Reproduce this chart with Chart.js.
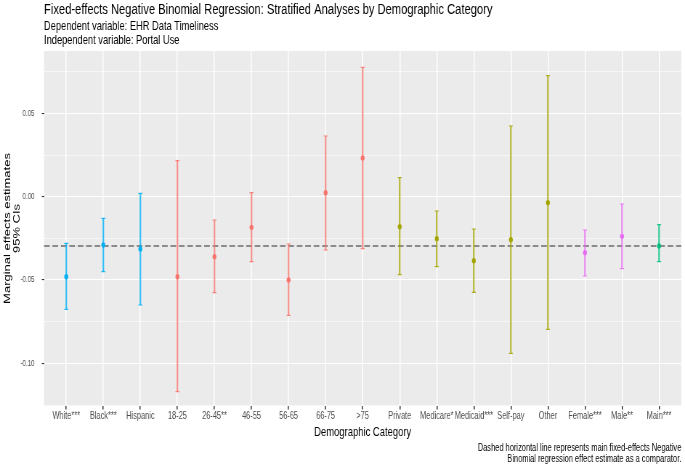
<!DOCTYPE html>
<html>
<head>
<meta charset="utf-8">
<title>Fixed-effects Negative Binomial Regression</title>
<script src="https://cdn.jsdelivr.net/npm/chart.js@4.4.1/dist/chart.umd.min.js"></script>
<style>
    html, body { margin: 0; padding: 0; background: #ffffff; }
    #grafico { display: block; }
</style>
</head>
<body>
<!-- O original foi comprimido na horizontal: desenhamos largo e encolhemos via estilo -->
<canvas id="grafico" width="943" height="464" style="width: 685px; height: 464px;"></canvas>
<script>
// Dados
const categorias = ['White***', 'Black***', 'Hispanic', '18-25', '26-45**', '46-55', '56-65', '66-75', '>75',
    'Private', 'Medicare*', 'Medicaid***', 'Self-pay', 'Other', 'Female***', 'Male**', 'Main***'];
const grupos = ['Race', 'Race', 'Race', 'Age', 'Age', 'Age', 'Age', 'Age', 'Age',
    'Insurance', 'Insurance', 'Insurance', 'Insurance', 'Insurance', 'Sex', 'Sex', 'Main'];
const estimativas = [-0.0480, -0.0290, -0.0314, -0.0480, -0.0360, -0.0184, -0.0500, 0.0024, 0.0232,
    -0.0180, -0.0252, -0.0384, -0.0258, -0.0036, -0.0336, -0.0238, -0.0296];
const limiteInferior = [-0.0676, -0.0450, -0.0650, -0.1170, -0.0576, -0.0390, -0.0712, -0.0320, -0.0312,
    -0.0468, -0.0420, -0.0574, -0.0940, -0.0796, -0.0476, -0.0432, -0.0390];
const limiteSuperior = [-0.0280, -0.0130, 0.0020, 0.0216, -0.0140, 0.0024, -0.0284, 0.0364, 0.0776,
    0.0114, -0.0086, -0.0194, 0.0424, 0.0726, -0.0200, -0.0044, -0.0168];
const estimativaPrincipal = -0.0296;
const ticksY = [-0.10, -0.05, 0.00, 0.05];

const coresGrupo = {
    Race: '#00B0F6',
    Age: '#F8766D',
    Insurance: '#A3A500',
    Sex: '#E76BF3',
    Main: '#00BF7D'
};

const FONTE = "'Liberation Sans', Arial, Helvetica, sans-serif";

function comAlpha(hex, alpha) {
    const r = parseInt(hex.slice(1, 3), 16);
    const g = parseInt(hex.slice(3, 5), 16);
    const b = parseInt(hex.slice(5, 7), 16);
    return `rgba(${r}, ${g}, ${b}, ${alpha})`;
}

function ehPrincipal(valor) {
    return ticksY.some(t => Math.abs(t - valor) < 1e-9);
}

const cores = grupos.map(g => coresGrupo[g]);
const coresBarras = cores.map(c => comAlpha(c, 0.8));

// Fundo cinza do painel (estilo ggplot)
const fundoPainel = {
    id: 'fundoPainel',
    beforeDraw(chart) {
        const { ctx, chartArea: a } = chart;
        ctx.save();
        ctx.fillStyle = '#EBEBEB';
        ctx.fillRect(a.left, a.top, a.right - a.left, a.bottom - a.top);
        ctx.restore();
    }
};

// Linha tracejada da estimativa principal
const linhaReferencia = {
    id: 'linhaReferencia',
    beforeDatasetsDraw(chart) {
        const { ctx, chartArea: a, scales } = chart;
        const y = scales.y.getPixelForValue(estimativaPrincipal);
        ctx.save();
        ctx.strokeStyle = 'rgba(85, 85, 85, 0.85)';
        ctx.lineWidth = 1.3;
        ctx.setLineDash([7.8, 3.8]);
        ctx.beginPath();
        ctx.moveTo(a.left, y);
        ctx.lineTo(a.right, y);
        ctx.stroke();
        ctx.restore();
    }
};

// Título, subtítulos e nota de rodapé
const textos = {
    id: 'textos',
    afterDraw(chart) {
        const { ctx, chartArea: a } = chart;
        ctx.save();
        ctx.fillStyle = '#000000';
        ctx.textBaseline = 'middle';
        ctx.textAlign = 'left';
        ctx.font = `15.4px ${FONTE}`;
        ctx.fillText('Fixed-effects Negative Binomial Regression: Stratified Analyses by Demographic Category', a.left, 9.5);
        ctx.font = `12.8px ${FONTE}`;
        ctx.fillText('Dependent variable: EHR Data Timeliness', a.left, 26.7);
        ctx.fillText('Independent variable: Portal Use', a.left, 40);
        ctx.textAlign = 'right';
        ctx.font = `10.3px ${FONTE}`;
        ctx.fillText('Dashed horizontal line represents main fixed-effects Negative', a.right, 448.3);
        ctx.fillText('Binomial regression effect estimate as a comparator.', a.right, 458.7);
        ctx.restore();
    }
};

Chart.defaults.font.family = FONTE;

new Chart(document.getElementById('grafico'), {
    type: 'line',
    data: {
        datasets: [
            {
                label: 'Estimativa',
                data: categorias.map((c, i) => ({ x: i, y: estimativas[i] })),
                showLine: false,
                pointStyle: 'circle',
                pointRadius: 2.7,
                pointBackgroundColor: cores,
                pointBorderColor: cores,
                pointBorderWidth: 0,
                order: 0
            },
            {
                label: 'Limite superior',
                data: categorias.map((c, i) => ({ x: i, y: limiteSuperior[i] })),
                showLine: false,
                pointStyle: 'line',
                pointRadius: 2.75,
                pointBorderColor: coresBarras,
                pointBorderWidth: 1.1,
                order: 1
            },
            {
                label: 'Limite inferior',
                data: categorias.map((c, i) => ({ x: i, y: limiteInferior[i] })),
                showLine: false,
                pointStyle: 'line',
                pointRadius: 2.75,
                pointBorderColor: coresBarras,
                pointBorderWidth: 1.1,
                order: 1
            },
            {
                type: 'bar',
                label: 'IC 95%',
                data: categorias.map((c, i) => ({ x: i, y: [limiteInferior[i], limiteSuperior[i]] })),
                backgroundColor: coresBarras,
                borderWidth: 0,
                barThickness: 1.5,
                order: 2
            }
        ]
    },
    options: {
        responsive: false,
        animation: false,
        layout: { padding: { top: 51, right: 2.3, bottom: 0, left: 0 } },
        plugins: {
            legend: { display: false },
            title: { display: false },
            tooltip: { enabled: false }
        },
        scales: {
            x: {
                type: 'linear',
                min: -0.6,
                max: categorias.length - 0.4,
                offset: false,
                afterFit: (escala) => { escala.height = 58; },
                border: { display: false },
                grid: {
                    offset: false,
                    color: '#FFFFFF',
                    lineWidth: 1.5,
                    tickColor: '#333333',
                    tickLength: 3.5,
                    tickWidth: 1.5
                },
                ticks: {
                    stepSize: 1,
                    includeBounds: false,
                    autoSkip: false,
                    maxRotation: 0,
                    padding: 0.5,
                    color: '#4D4D4D',
                    font: { size: 10.2 },
                    callback: (valor) => categorias[valor] ?? ''
                },
                title: {
                    display: true,
                    text: 'Demographic Category',
                    color: '#000000',
                    font: { size: 13 },
                    padding: { top: 0, bottom: 24.2 }
                }
            },
            y: {
                min: -0.1256,
                max: 0.0874,
                afterFit: (escala) => { escala.width = 60.6; },
                border: { display: false },
                grid: {
                    color: '#FFFFFF',
                    lineWidth: (ctx) => ehPrincipal(ctx.tick.value) ? 1.1 : 0.55,
                    tickColor: (ctx) => ehPrincipal(ctx.tick.value) ? '#333333' : 'rgba(0,0,0,0)',
                    tickLength: 3,
                    tickWidth: 1.1
                },
                ticks: {
                    stepSize: 0.025,
                    includeBounds: false,
                    padding: 10,
                    color: '#4D4D4D',
                    font: { size: 8.5 },
                    callback: (valor) => ehPrincipal(valor) ? valor.toFixed(2) : ''
                },
                title: {
                    display: true,
                    text: ['Marginal effects estimates', '95% CIs'],
                    color: '#000000',
                    font: { size: 13, lineHeight: 0.95 },
                    padding: { top: 4.5, bottom: 0 }
                }
            }
        }
    },
    plugins: [fundoPainel, linhaReferencia, textos]
});
</script>
</body>
</html>
